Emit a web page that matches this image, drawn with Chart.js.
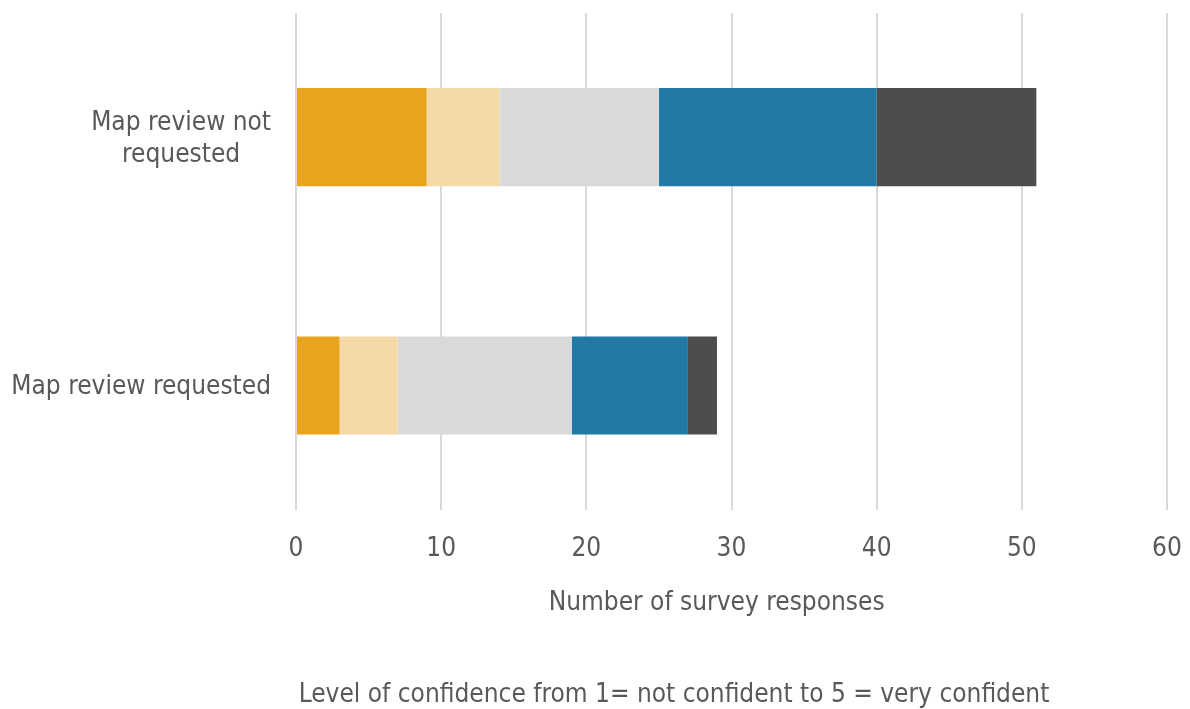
<!DOCTYPE html>
<html>
<head>
<meta charset="utf-8">
<script src="https://cdn.jsdelivr.net/npm/chart.js@4.4.0/dist/chart.umd.min.js"></script>
<style>
  html, body { margin: 0; padding: 0; background: #ffffff; }
  #wrap { width: 1190px; height: 709px; }
</style>
</head>
<body>
<div id="wrap"><canvas id="confChart"></canvas></div>
<script>
/* ===== DATA ===== */
const groups = [["Map review not", "requested"], "Map review requested"];
const levels = ["1", "2", "3", "4", "5"];
const level1 = [9, 3];
const level2 = [5, 4];
const level3 = [11, 12];
const level4 = [15, 8];
const level5 = [11, 2];
const xTicks = [0, 10, 20, 30, 40, 50, 60];

const colors = ["#E9A41E", "#F5D9A6", "#D9D9D9", "#2179A4", "#4D4D4F"];
const TEXT = "#595959";
const FONT = "'DejaVu Sans Condensed', 'Liberation Sans Narrow', 'DejaVu Sans', sans-serif";
const SIZE = 26;

/* ===== Y LABELS: lines centred inside a right-aligned block ===== */
const groupLabels = {
  id: "groupLabels",
  afterDraw(chart) {
    const y = chart.scales.y;
    const ctx = chart.ctx;
    const right = y.right - 25;
    ctx.save();
    ctx.font = SIZE + "px " + FONT;
    ctx.fillStyle = TEXT;
    ctx.textBaseline = "middle";
    ctx.textAlign = "center";
    y.ticks.forEach((t, i) => {
      const lines = Array.isArray(groups[i]) ? groups[i] : [groups[i]];
      const w = Math.max(...lines.map(l => ctx.measureText(l).width));
      const cx = right - w / 2;
      const cy = y.getPixelForTick(i) + 2;
      const lh = 32;
      lines.forEach((l, k) => {
        ctx.fillText(l, cx, cy + (k - (lines.length - 1) / 2) * lh);
      });
    });
    ctx.restore();
  }
};

const series = [level1, level2, level3, level4, level5];

new Chart(document.getElementById("confChart"), {
  type: "bar",
  data: {
    labels: groups,
    datasets: series.map((s, i) => ({
      label: levels[i],
      data: s,
      backgroundColor: colors[i],
      borderWidth: 0,
      barPercentage: 1,
      categoryPercentage: 0.395
    }))
  },
  options: {
    indexAxis: "y",
    responsive: true,
    maintainAspectRatio: false,
    animation: false,
    layout: { padding: { top: 13, right: 23, left: 181, bottom: 0 } },
    scales: {
      x: {
        stacked: true,
        min: 0,
        max: 60,
        afterBuildTicks: axis => { axis.ticks = xTicks.map(v => ({ value: v })); },
        afterFit: scale => { scale.paddingLeft = 0; scale.paddingRight = 0; },
        grid: { color: "#D9D9D9", lineWidth: 2, drawTicks: false },
        border: { display: false },
        ticks: { color: TEXT, font: { family: FONT, size: SIZE }, padding: 24 },
        title: {
          display: true,
          // trailing spaces nudge the centred title a bit to the left
          text: "Number of survey responses    ",
          color: TEXT,
          font: { family: FONT, size: SIZE, lineHeight: 1.1 },
          padding: { top: 0, bottom: 0 }
        }
      },
      y: {
        stacked: true,
        grid: { display: false, drawTicks: false },
        border: { display: false },
        ticks: { display: false },
        afterFit: scale => { scale.width = 115; }
      }
    },
    plugins: {
      tooltip: { enabled: false },
      legend: {
        position: "bottom",
        labels: { filter: () => false, padding: 0, boxHeight: 0, font: { size: 1 } },
        title: {
          display: true,
          text: "Level of confidence from 1= not confident to 5 = very confident",
          color: TEXT,
          font: { family: FONT, size: SIZE, lineHeight: 1.1 },
          padding: { top: 65, bottom: -12 }
        }
      }
    }
  },
  plugins: [groupLabels]
});
</script>
</body>
</html>
